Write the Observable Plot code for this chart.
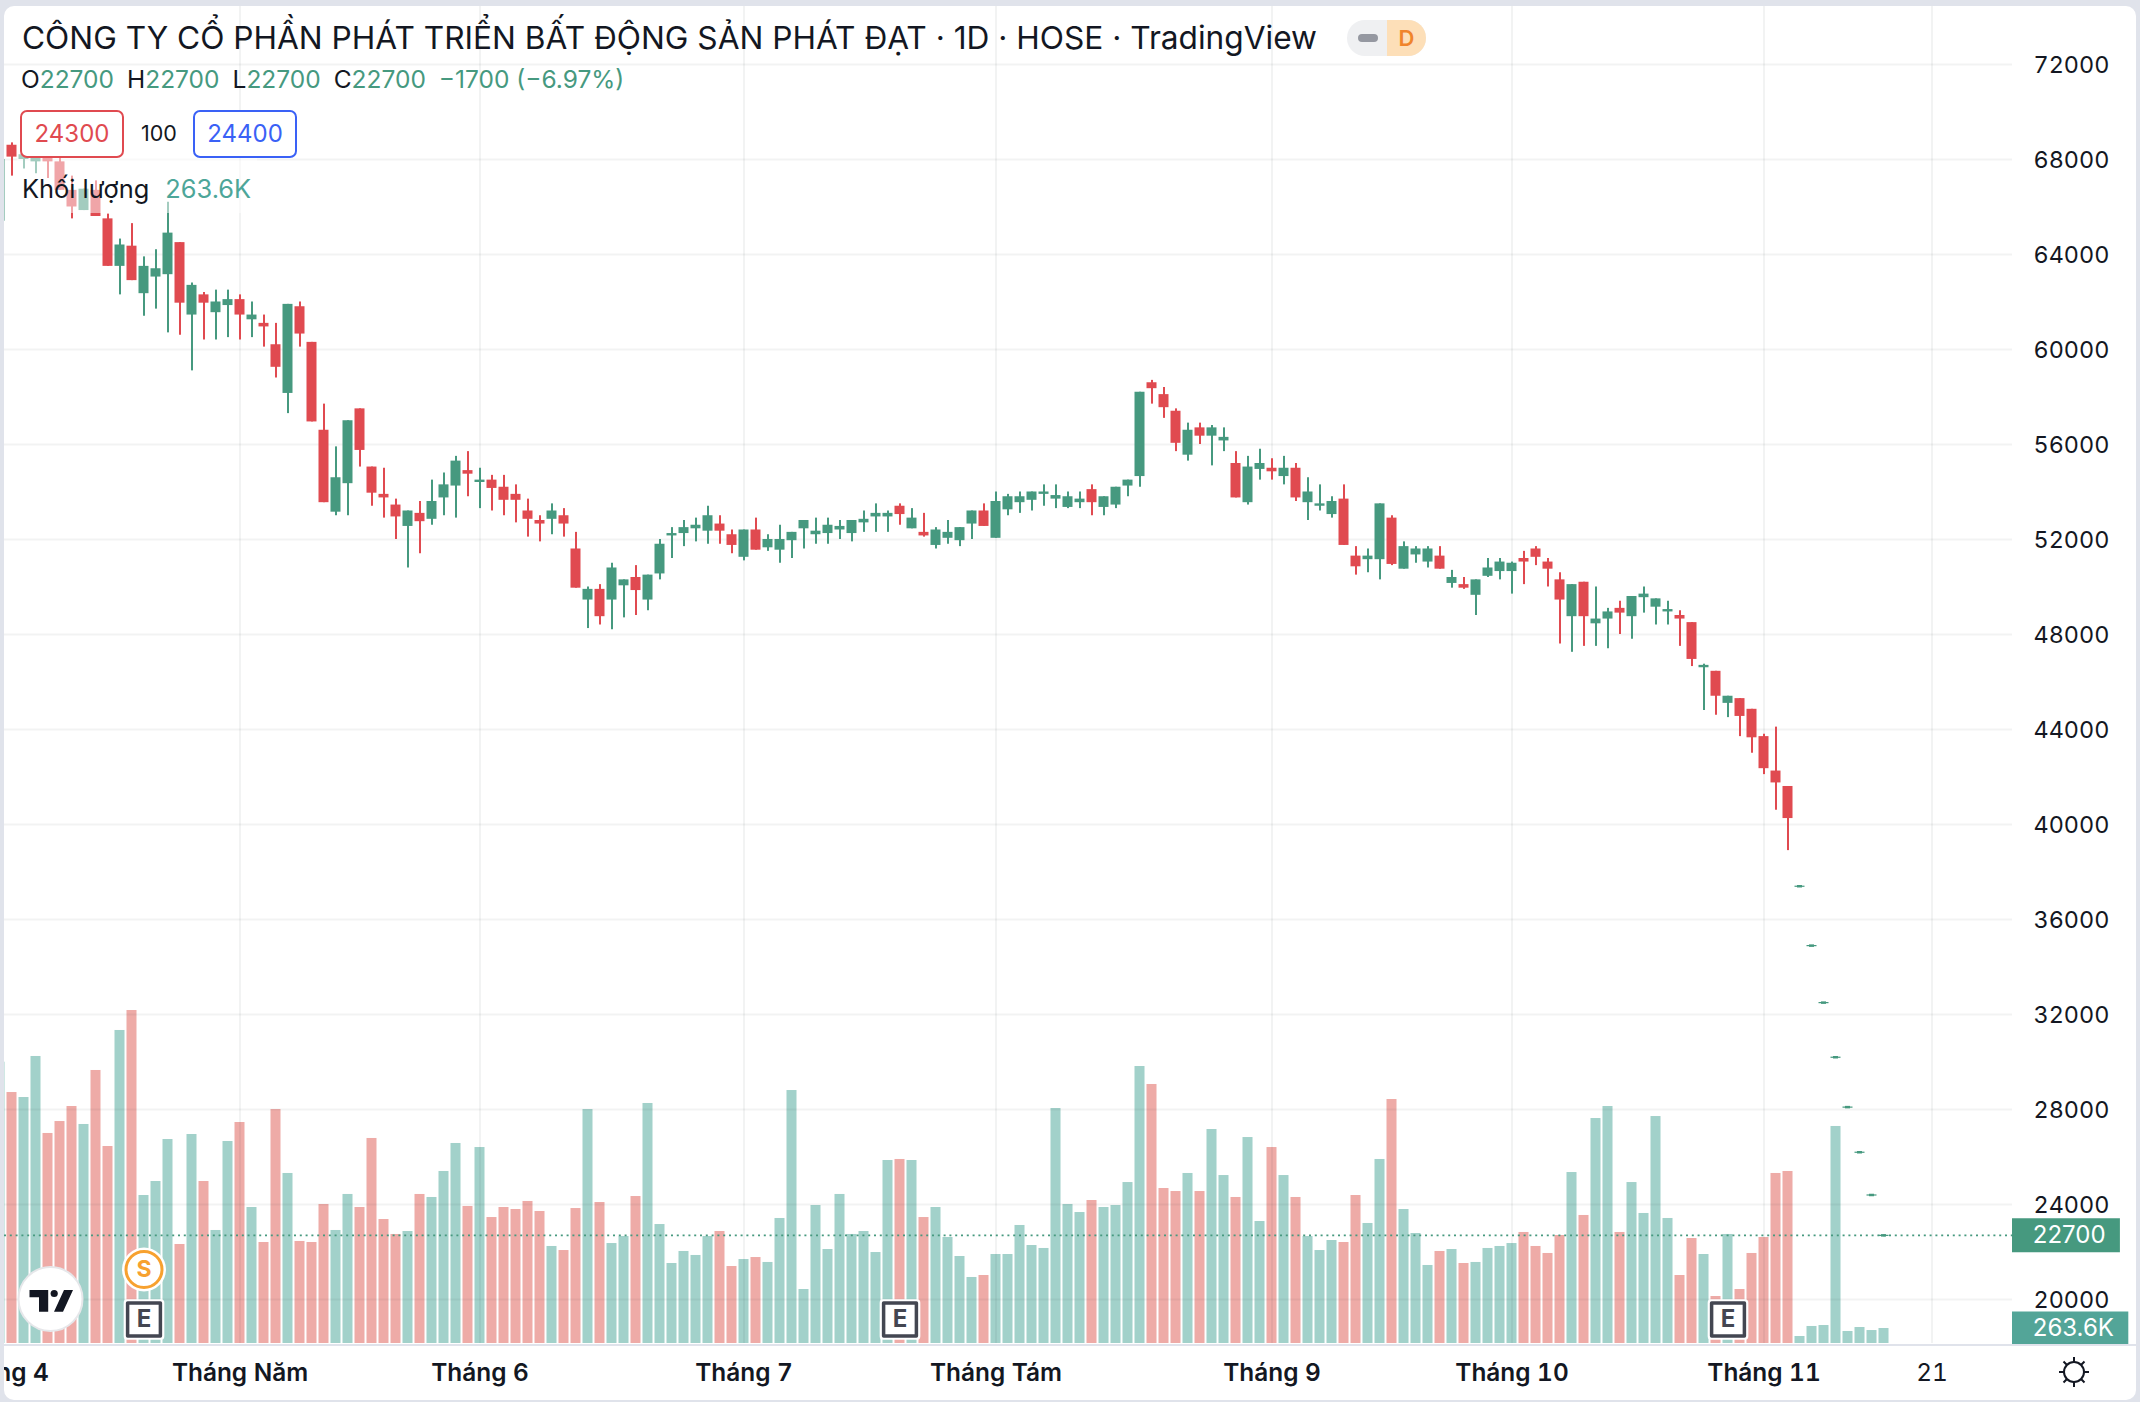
<!DOCTYPE html>
<html><head><meta charset="utf-8">
<script src="https://cdn.jsdelivr.net/npm/d3@7"></script>
<script src="https://cdn.jsdelivr.net/npm/@observablehq/plot@0.6"></script>
<style>
html,body{margin:0;padding:0;width:2140px;height:1402px;overflow:hidden;background:#e0e3eb;font-family:Inter,"Noto Sans",sans-serif;color:#131722}
#card{position:absolute;left:4px;top:6px;width:2132px;height:1394px;background:#fff}
#chart svg{position:absolute;left:0;top:0}
.abs{position:absolute;white-space:nowrap}
#frame{position:absolute;left:4px;top:6px;width:2132px;height:1394px;border-radius:10px;box-shadow:0 0 0 30px #e0e3eb;pointer-events:none}
#sep{position:absolute;left:4px;top:1343.5px;width:2132px;height:2.5px;background:#e0e3eb}
#veil{position:absolute;left:17px;top:110px;width:240px;height:103px;background:rgba(255,255,255,.5)}
.g{color:#46997f}.btn{position:absolute;top:110px;height:44px;width:100px;border:2px solid;border-radius:7px;background:#fff;text-align:center;line-height:44px;font-size:24px}
</style></head><body>
<div id="card"></div><div id="chart"></div><div id="sep"></div><div id="veil"></div>
<div class="abs" id="title" style="left:22px;top:18px;font-size:31.65px;line-height:40px;color:#131722">CÔNG TY CỔ PHẦN PHÁT TRIỂN BẤT ĐỘNG SẢN PHÁT ĐẠT · 1D · HOSE · TradingView</div>
<div class="abs" style="left:21px;top:64px;font-size:24.5px;line-height:30px">O<span class="g">22700</span><span style="margin-left:13px">H</span><span class="g">22700</span><span style="margin-left:13px">L</span><span class="g">22700</span><span style="margin-left:13px">C</span><span class="g">22700</span><span class="g" style="margin-left:13px">−1700 (−6.97%)</span></div>
<div class="btn" style="left:20px;color:#e04a50;border-color:#e04a50">24300</div>
<div class="abs" style="left:141px;top:118px;font-size:21.5px;line-height:30px">100</div>
<div class="btn" style="left:193px;color:#3a61f6;border-color:#3a61f6">24400</div>
<div class="abs" style="left:22px;top:173px;font-size:25.4px;line-height:32px">Khối lượng<span style="color:#4da699;margin-left:16px">263.6K</span></div>
<div class="abs" style="left:1347px;top:20px;width:79px;height:36px;border-radius:18px;overflow:hidden;background:#eff0f2">
 <div class="abs" style="left:40px;top:0;width:39px;height:36px;background:#fddfb8;color:#f0842b;font-size:22px;font-weight:600;line-height:36px;text-align:center">D</div>
 <div class="abs" style="left:11px;top:14px;width:20px;height:8px;border-radius:4px;background:#9598a1"></div>
</div>
<svg class="abs" style="left:0;top:0" width="2140" height="1402" viewBox="0 0 2140 1402">
 <circle cx="50.5" cy="1299" r="32" fill="#fff" stroke="#e6e7ea" stroke-width="2"/>
 <path d="M29.5 1290H48.2V1311.7H39V1297.3H29.5Z M64 1290H73L63 1311.7H54Z" fill="#131722"/><circle cx="54.2" cy="1293.5" r="3.6" fill="#131722"/>
 <g fill="none" stroke="#131722" stroke-width="2"><circle cx="2074" cy="1372" r="10"/><path d="M2074 1357V1362M2074 1382V1387M2059 1372H2064M2084 1372H2089M2063.5 1361.5L2067 1365M2081 1379L2084.5 1382.5M2084.5 1361.5L2081 1365M2067 1379L2063.5 1382.5"/></g>
</svg>
<div id="frame"></div>
<script>
const opens=[65400,68600,68000,67900,68300,67900,66700,65850,66700,65500,63500,64350,62350,63050,63150,64500,61450,62300,61550,61850,62100,61250,61100,60200,58150,61800,60300,56600,53150,54350,57500,55050,53900,53450,52550,53100,52850,53750,54250,54900,54400,54500,54200,53900,53200,52800,52850,53000,51600,49450,49900,49450,50050,50400,49450,50550,52150,52250,52450,52350,52650,52200,51250,52400,51650,51550,51950,52450,52200,52250,52400,52250,52700,52950,52950,53400,52450,52300,51750,52050,51950,52650,53200,52050,53250,53550,53650,53900,53700,53350,53550,54100,53350,53450,54250,54650,58600,58100,57400,55550,56700,56350,56150,55200,53550,54950,55000,54650,55000,53550,53400,53050,53700,51300,51150,51150,52900,50750,51350,51050,51300,50150,50100,49650,50450,50650,50650,51200,51600,51050,50300,48750,50200,48450,48650,49100,48750,49550,49150,48950,48800,48500,46600,46450,45100,45300,44850,43700,42250,41600,37400,34900,32500,30200,28100,26200,24400,22700];
const highs=[68000,68700,68300,68400,68400,68100,67300,66750,67100,65700,64650,65300,63900,64200,66200,64500,62800,62400,62500,62500,62300,62000,61450,61100,61900,62000,60300,57700,55900,57000,57500,55050,55000,53700,53200,53600,54500,54800,55500,55700,55000,54700,54700,54300,53700,53000,53500,53300,52300,50000,50100,51000,50300,50900,50500,52000,52500,52800,52900,53400,53000,52400,52400,52900,52200,52600,52300,52800,52900,52900,52800,52800,53200,53500,53200,53500,53300,53100,52500,52800,52500,53200,53500,54000,53900,54000,54000,54300,54300,54000,54000,54300,53800,54200,54500,58200,58700,58400,57500,56900,56900,56800,56700,55700,55500,55800,55400,55500,55200,54600,54300,53800,54300,51700,51600,53500,53000,51900,51700,51700,51700,50700,50400,50300,51200,51200,51050,51500,51700,51200,50600,50100,50200,50000,49100,49400,49600,50000,49500,49400,49000,48500,46750,46450,45400,45300,44850,43800,44100,41600,37400,34900,32500,30200,28100,26200,24400,22700];
const lows=[65400,67300,67600,67400,67200,66700,65500,65850,65600,63500,62300,62900,61400,61700,60700,60600,59100,60400,60400,60500,60400,60500,60100,58800,57300,60100,56950,53550,53000,53000,55050,53400,52900,52000,50800,51400,52600,53000,52900,53800,53300,53200,53000,52700,52100,51900,52200,52100,49950,48250,48400,48200,48700,48800,49000,50300,51200,51700,51900,51800,51800,51400,51100,51550,51500,51000,51200,51600,51800,51800,52000,51900,52300,52300,52300,52600,52450,52100,51600,51800,51700,52000,52550,52050,53000,53100,53200,53400,53300,53300,53300,53000,53000,53300,53800,54200,57700,57100,55700,55300,56000,55100,55700,53750,53450,54500,54500,54300,53600,52800,53200,52900,51750,50500,50600,50300,50900,50750,51000,50800,50750,49950,49900,48800,50400,50300,49700,50100,50900,50000,47600,47250,47500,47500,47400,48000,47800,48900,48400,48400,47500,46650,44800,44600,44500,43700,43000,42100,40600,38900,37400,34900,32500,30200,28100,26200,24400,22700];
const closes=[68000,68100,68200,68300,67900,66700,66000,66750,65600,63500,64400,62900,63500,63400,64900,61950,62700,61950,62000,62100,61450,61450,60950,59250,61900,60650,56950,53550,54600,57000,55750,53950,53750,52950,53200,52750,53600,54300,55300,54750,54500,54150,53650,53650,52850,52650,53200,52650,49950,49900,48750,50800,50300,49850,50500,51800,52250,52500,52600,53000,52350,51750,52400,51550,52000,52000,52300,52800,52350,52600,52550,52800,52850,53100,53100,53050,52900,52150,52400,52300,52500,53200,52550,53600,53800,53800,54000,54000,53850,53800,53700,53550,53800,54200,54500,58200,58350,57550,56050,56600,56350,56700,56300,53750,55050,55200,54850,55000,53750,54000,53500,53600,51750,50850,51300,53500,50950,51700,51600,51600,50750,50400,49950,50300,50800,51050,51000,51050,51250,50750,49450,50100,48750,48650,48950,48900,49600,49700,49500,49050,48650,46950,46700,45400,45400,44550,43650,42350,41750,40250,37400,34900,32500,30200,28100,26200,24400,22700];
const volumesK=[4944,4411,4323,5044,3691,3901,4165,3849,4798,3462,5501,5852,2601,2847,3585,1740,3673,2847,1986,3550,3884,2390,1775,4112,2988,1793,1775,2443,1986,2619,2390,3603,2179,1916,1968,2619,2566,3023,3515,2408,3444,2214,2390,2355,2496,2320,1705,1634,2372,4112,2478,1757,1880,2583,4218,2091,1406,1617,1547,1880,1968,1353,1476,1511,1424,2197,4446,949,2425,1652,2619,1916,1968,1599,3216,3234,3216,2214,2390,1863,1529,1160,1195,1564,1564,2074,1722,1670,4130,2443,2302,2513,2390,2425,2829,4868,4552,2724,2671,2988,2671,3761,2952,2566,3620,2144,3444,2952,2566,1880,1634,1810,1775,2601,2109,3234,4288,2355,1933,1371,1617,1652,1406,1424,1670,1705,1757,1951,1705,1582,1898,3005,2250,3954,4165,1951,2829,2285,3989,2197,1195,1845,1564,826,1916,949,1582,1863,2988,3023,123,299,316,3814,211,281,228,263.6];
const monthIdx=[0,20,40,62,83,106,126,147];
const monthLabels=["Tháng 4","Tháng Năm","Tháng 6","Tháng 7","Tháng Tám","Tháng 9","Tháng 10","Tháng 11"];
const dayIdx=[161], dayLabels=["21"];
const priceTicks=[72000,68000,64000,60000,56000,52000,48000,44000,40000,36000,32000,28000,24000,20000];
const earningsIdx=[12,75,144], splitIdx=[12];
const lastPrice=22700, lastVolume=263.6;

const RED="#e04a50",GREEN="#46997f",GRID="#2a2e39";
const rows=opens.map((o,i)=>({i,o,h:highs[i],l:lows[i],c:closes[i],v:volumesK[i],up:closes[i]>=o}));
const W=2140,H=1402,half=5/12;
const xScale={domain:[0.375,167.708],axis:null};
const common={width:W,height:H,marginLeft:4,marginRight:128,marginBottom:59,style:{background:"transparent",fontFamily:"Inter, 'Noto Sans', sans-serif",color:"#131722",overflow:"hidden"}};

const vol=Plot.plot({...common,marginTop:1001.6,x:xScale,y:{domain:[0,6000],axis:null},marks:[
  Plot.rectY(rows,{x1:d=>d.i-half,x2:d=>d.i+half,y:"v",fill:d=>d.up?"#46a396":"#dd5850",fillOpacity:.5,clip:true}),
  Plot.ruleY([lastVolume],{x1:167.708,x2:177.4,stroke:"#53a598",strokeWidth:34}),
  Plot.text([lastVolume],{y:d=>d,x:169.4,text:d=>d.toFixed(1)+"K",fill:"#fff",fontSize:24,textAnchor:"start"})
]});

const price=Plot.plot({...common,marginTop:6,x:xScale,y:{domain:[18147,74442],axis:null},marks:[
  Plot.gridY(priceTicks,{stroke:GRID,strokeOpacity:.06,strokeWidth:2}),
  Plot.gridX(monthIdx.concat(dayIdx),{stroke:GRID,strokeOpacity:.06,strokeWidth:2}),
  Plot.axisY({anchor:"right",ticks:priceTicks,tickSize:0,tickPadding:21,tickFormat:d=>String(d),fontSize:23.4,label:null,textAnchor:"start",dy:1}),
  Plot.axisX({anchor:"bottom",ticks:monthIdx,tickSize:0,tickPadding:20.5,tickFormat:d=>monthLabels[monthIdx.indexOf(d)],fontSize:24.4,fontWeight:600,label:null}),
  Plot.axisX({anchor:"bottom",ticks:dayIdx,tickSize:0,tickPadding:20.5,tickFormat:d=>dayLabels[dayIdx.indexOf(d)],fontSize:24.4,label:null}),
  Plot.ruleX(rows,{x:"i",y1:"l",y2:"h",stroke:d=>d.up?GREEN:RED,strokeWidth:2,clip:true}),
  Plot.rect(rows.filter(d=>d.o!==d.c),{x1:d=>d.i-half,x2:d=>d.i+half,y1:"o",y2:"c",fill:d=>d.up?GREEN:RED,clip:true}),
  Plot.ruleY(rows.filter(d=>d.o===d.c),{y:"c",x1:d=>d.i-half,x2:d=>d.i+half,stroke:GREEN,strokeWidth:1.2}),
  Plot.ruleY(rows.filter(d=>d.o===d.c),{y:"c",x1:d=>d.i-half/2,x2:d=>d.i+half/2,stroke:GREEN,strokeWidth:2.5}),
  Plot.ruleY([lastPrice],{stroke:GREEN,strokeWidth:1.8,strokeDasharray:"2 3.8"}),
  Plot.ruleY([lastPrice],{x1:167.708,x2:176.7,stroke:GREEN,strokeWidth:34}),
  Plot.text([lastPrice],{y:d=>d,x:169.4,text:d=>String(d),fill:"#fff",fontSize:24,textAnchor:"start"}),
  Plot.dot(earningsIdx,{x:d=>d,frameAnchor:"bottom",dy:-24,symbol:"square",r:19,fill:"#fff",stroke:"#fff",strokeWidth:7,strokeLinejoin:"round"}),
  Plot.dot(earningsIdx,{x:d=>d,frameAnchor:"bottom",dy:-24,symbol:"square",r:18.5,fill:"#fff",stroke:"#434651",strokeWidth:3.5,strokeLinejoin:"round"}),
  Plot.text(earningsIdx,{x:d=>d,frameAnchor:"bottom",dy:-24,text:()=>"E",fontSize:24,fontWeight:700,fill:"#434651",lineAnchor:"middle"}),
  Plot.dot(splitIdx,{x:d=>d,frameAnchor:"bottom",dy:-74,r:22,fill:"#fff"}),
  Plot.dot(splitIdx,{x:d=>d,frameAnchor:"bottom",dy:-74,r:18,fill:"#fff",stroke:"#f7a12f",strokeWidth:3}),
  Plot.text(splitIdx,{x:d=>d,frameAnchor:"bottom",dy:-74,text:()=>"S",fontSize:23,fontWeight:700,fill:"#f7a12f",lineAnchor:"middle"})
]});
const host=document.getElementById("chart");
host.append(vol,price);
</script>
</body></html>
